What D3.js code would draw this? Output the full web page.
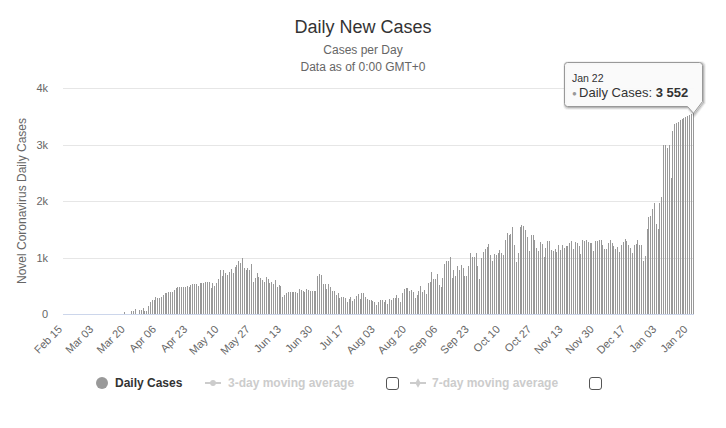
<!DOCTYPE html>
<html><head><meta charset="utf-8">
<script src="https://cdn.jsdelivr.net/npm/d3@7"></script>
<style>
body{margin:0;background:#fff}
svg{display:block}
text{font-family:"Liberation Sans",Arial,Helvetica,sans-serif}
</style>
</head><body>
<svg id="chart" width="726" height="428"></svg>
<script>
// ---- data ----
const startDate = new Date(Date.UTC(2020, 1, 15));
const endDate = new Date(Date.UTC(2021, 0, 23));
const categories = d3.utcDay.range(startDate, endDate).map(d3.utcFormat("%b %d"));
const tickLabels = ["Feb 15","Mar 03","Mar 20","Apr 06","Apr 23","May 10","May 27","Jun 13","Jun 30","Jul 17","Aug 03","Aug 20","Sep 06","Sep 23","Oct 10","Oct 27","Nov 13","Nov 30","Dec 17","Jan 03","Jan 20"];
const yTicks = [0, 1000, 2000, 3000, 4000];
const seriesName = "Daily Cases";
const legendItems = ["Daily Cases", "3-day moving average", "7-day moving average"];
const dailyCases = [
  0,0,0,0,0,0,0,0,0,0, 0,0,0,0,0,0,0,0,0,0, 0,0,0,0,0,0,0,0,0,0, 0,0,0,
  32,0,0,0,52,55,88,0,77,65,
  106,47,59,142,212,248,248,301,283,283,
  307,340,366,378,384,389,395,419,454,478,
  479,470,478,478,496,478,513,531,531,531,
  496,549,549,549,566,566,566,460,549,496,
  549,620,779,673,779,726,690,743,797,726,
  832,867,938,903,991,814,779,814,779,885,
  566,637,726,655,637,602,566,655,619,549,
  566,531,602,478,519,496,301,336,366,389,
  389,389,389,389,372,443,425,407,389,443,
  425,407,407,407,415,673,708,690,531,531,
  443,531,478,407,407,336,372,283,301,301,
  283,212,265,301,230,265,319,354,265,372,
  372,301,265,248,248,230,212,159,212,248,
  248,212,248,177,265,248,283,283,336,283,
  212,372,443,455,
  460,413,425,389,283,336,407,496,389,425,
  354,549,566,743,619,619,708,513,478,637,
  885,938,938,1009,637,779,673,850,779,867,
  814,673,673,850,1080,1009,1009,1080,850,619,
  991,1097,1150,1186,1239,1044,938,1062,1044,1080,
  1133,1080,1044,1310,1434,1398,1416,1540,1221,920,
  1080,1540,1575,
  1557,1487,1363,1115,1398,1398,1310,1168,1115,1274,
  1239,1009,1168,1292,1292,1133,1115,1150,1097,1221,
  1133,1221,1168,1204,1204,1257,1292,1150,1274,1257,
  1204,1062,1310,1292,1310,1274,1257,1257,1115,1292,
  1292,1310,1310,1221,1150,1150,1257,1310,1257,1204,
  1150,1186,1097,1221,1274,1327,1292,1221,1168,1080,
  1221,1239,1310,
  1221,1221,938,1027,1504,1723,1740,1858,1965,1593,
  1504,1965,2071,2991,2991,2944,2991,2407,3233,3363,
  3386,3398,3434,3457,3469,3487,3504,3522,3540,3552
];

// ---- layout ----
const svg = d3.select("#chart");
const plot = {left: 63, right: 694, top: 88, bottom: 314};
const barColor = "#999999";

svg.append("rect").attr("width", 726).attr("height", 428).attr("fill", "#fff");

const x = d3.scaleBand().domain(categories).range([plot.left, plot.right]).paddingInner(0).paddingOuter(0);
const y = d3.scaleLinear().domain([0, 4000]).range([plot.bottom, plot.top]);

// titles
svg.append("text").attr("x", 363).attr("y", 33).attr("text-anchor", "middle")
  .attr("font-size", 18).attr("fill", "#333").text("Daily New Cases");
svg.append("text").attr("x", 363).attr("y", 54).attr("text-anchor", "middle")
  .attr("font-size", 12).attr("fill", "#666").text("Cases per Day");
svg.append("text").attr("x", 363).attr("y", 71).attr("text-anchor", "middle")
  .attr("font-size", 12).attr("fill", "#666").text("Data as of 0:00 GMT+0");

// y grid + labels
const yAxis = d3.axisLeft(y).tickValues(yTicks).tickSize(0).tickPadding(15)
  .tickFormat(d => d === 0 ? "0" : (d / 1000) + "k");
const yg = svg.append("g").attr("transform", `translate(${plot.left},0)`).call(yAxis);
yg.select(".domain").remove();
yg.selectAll("text").attr("font-size", 11).attr("fill", "#666").attr("font-family", null);
svg.append("g").selectAll("line").data(yTicks.filter(d => d > 0)).join("line")
  .attr("x1", plot.left).attr("x2", plot.right)
  .attr("y1", d => Math.round(y(d)) + 0.5).attr("y2", d => Math.round(y(d)) + 0.5)
  .attr("stroke", "#e6e6e6").attr("stroke-width", 1);

svg.append("text").attr("transform", `translate(26,${(plot.top + plot.bottom) / 2}) rotate(-90)`)
  .attr("text-anchor", "middle").attr("font-size", 12).attr("fill", "#666")
  .text("Novel Coronavirus Daily Cases");

// bars
const bw = x.bandwidth();
svg.append("g").attr("shape-rendering", "crispEdges").selectAll("rect")
  .data(dailyCases.map((v, i) => ({v, c: categories[i]})))
  .join("rect")
  .attr("x", d => Math.round(x(d.c) + bw / 2 - 0.5))
  .attr("width", 1)
  .attr("y", d => y(d.v))
  .attr("height", d => y(0) - y(d.v))
  .attr("fill", barColor);

// x axis
const tickCats = tickLabels.map((t, k) => categories[k * 17]);
const xAxis = d3.axisBottom(x).tickValues(tickCats).tickSize(0)
  .tickFormat((d, k) => tickLabels[k]);
const xg = svg.append("g").attr("transform", `translate(0,${plot.bottom})`).call(xAxis);
xg.select(".domain").remove();
xg.selectAll("text").attr("font-size", 11).attr("fill", "#666").attr("font-family", null)
  .attr("text-anchor", "end").attr("dy", null).attr("y", null)
  .attr("transform", "translate(-1,16) rotate(-45)");
svg.append("line").attr("x1", plot.left).attr("x2", plot.right)
  .attr("y1", plot.bottom + 0.5).attr("y2", plot.bottom + 0.5)
  .attr("stroke", "#ccd6eb").attr("stroke-width", 1);

// legend
const lg = svg.append("g");
lg.append("circle").attr("cx", 102).attr("cy", 383).attr("r", 6).attr("fill", barColor);
lg.append("text").attr("x", 115).attr("y", 387).attr("font-size", 12).attr("font-weight", "bold")
  .attr("fill", "#333").text(legendItems[0]);
const hidden = [{sx: 205, tx: 228, cb: 386}, {sx: 410, tx: 432, cb: 589}];
hidden.forEach((h, k) => {
  lg.append("line").attr("x1", h.sx).attr("x2", h.sx + 16).attr("y1", 383).attr("y2", 383)
    .attr("stroke", "#ccc").attr("stroke-width", 2);
  lg.append("path").attr("d", d3.symbol(k === 0 ? d3.symbolCircle : d3.symbolDiamond, 26)())
    .attr("transform", `translate(${h.sx + 8},383)`).attr("fill", "#ccc");
  lg.append("text").attr("x", h.tx).attr("y", 387).attr("font-size", 12).attr("font-weight", "bold")
    .attr("fill", "#ccc").text(legendItems[k + 1]);
  lg.append("rect").attr("x", h.cb + 0.5).attr("y", 377.5).attr("width", 12).attr("height", 12)
    .attr("rx", 2.5).attr("fill", "#fff").attr("stroke", "#555").attr("stroke-width", 1);
});

// tooltip
const last = dailyCases.length - 1;
const tipX = Math.round(x(categories[last]) + bw / 2) + 0.5;
const tipY = y(dailyCases[last]);
const bx0 = 564.5, by0 = 62.5, bx1 = 702.5, by1 = 106.5, r = 3;
const tipPath = `M${bx0 + r},${by0} H${bx1 - r} Q${bx1},${by0} ${bx1},${by0 + r} V${by1 - 5} L${tipX},${tipY} L${tipX - 6},${by1} H${bx0 + r} Q${bx0},${by1} ${bx0},${by1 - r} V${by0 + r} Q${bx0},${by0} ${bx0 + r},${by0} Z`;
const tg = svg.append("g");
[5, 3, 1].forEach((w, k) => {
  tg.append("path").attr("d", tipPath).attr("transform", "translate(1,1)")
    .attr("fill", "none").attr("stroke", "#000").attr("stroke-opacity", [0.05, 0.1, 0.15][k]).attr("stroke-width", w);
});
tg.append("path").attr("d", tipPath).attr("fill", "rgba(250,250,250,0.95)").attr("stroke", "#999").attr("stroke-width", 1);
tg.append("text").attr("x", 572).attr("y", 81.5).attr("font-size", 10.5).attr("fill", "#333")
  .text(categories[last]);
const t2 = tg.append("text").attr("x", 572).attr("y", 96.5).attr("font-size", 13).attr("fill", "#333");
t2.append("tspan").attr("fill", barColor).attr("font-size", 8).attr("dy", -1).text("● ");
t2.append("tspan").attr("dy", 1).text(seriesName + ": ");
t2.append("tspan").attr("font-weight", "bold").text(d3.format(",")(dailyCases[last]).replace(",", " "));
</script>
</body></html>
